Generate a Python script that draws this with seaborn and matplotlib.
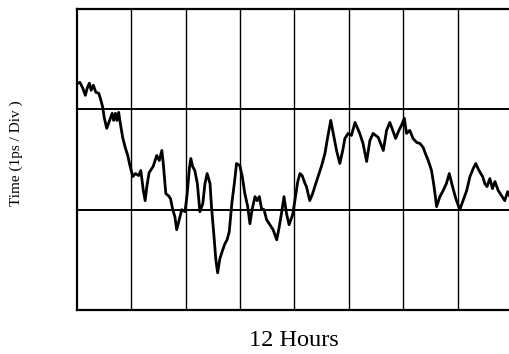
import matplotlib
matplotlib.use("Agg")
import matplotlib.pyplot as plt
import seaborn as sns
import pandas as pd

# Elapsed time (hours) and clock offset (ps) of the recorded trace
hours = [
    0.02, 0.08, 0.16, 0.23, 0.28, 0.34, 0.39, 0.45, 0.52, 0.60,
    0.66, 0.71, 0.75, 0.82, 0.87, 0.92, 0.97, 1.01, 1.06, 1.10,
    1.15, 1.19, 1.26, 1.33, 1.40, 1.46, 1.54, 1.61, 1.70, 1.76,
    1.83, 1.88, 1.93, 1.99, 2.10, 2.20, 2.27, 2.34, 2.38, 2.45,
    2.52, 2.58, 2.64, 2.70, 2.75, 2.82, 2.89, 2.98, 3.04, 3.10,
    3.14, 3.19, 3.25, 3.32, 3.39, 3.47, 3.53, 3.59, 3.67, 3.71,
    3.78, 3.83, 3.88, 3.94, 4.02, 4.08, 4.14, 4.20, 4.27, 4.34,
    4.40, 4.49, 4.56, 4.63, 4.71, 4.77, 4.83, 4.91, 4.97, 5.03,
    5.09, 5.16, 5.23, 5.32, 5.41, 5.51, 5.57, 5.64, 5.71, 5.78,
    5.85, 5.95, 6.01, 6.09, 6.15, 6.21, 6.29, 6.33, 6.42, 6.50,
    6.56, 6.65, 6.75, 6.84, 6.90, 7.00, 7.07, 7.16, 7.25, 7.33,
    7.39, 7.48, 7.57, 7.67, 7.73, 7.80, 7.89, 7.99, 8.08, 8.17,
    8.31, 8.45, 8.54, 8.63, 8.69, 8.79, 8.88, 8.95, 9.03, 9.09,
    9.18, 9.27, 9.37, 9.46, 9.55, 9.61, 9.69, 9.78, 9.85, 9.92,
    10.01, 10.10, 10.19, 10.27, 10.36, 10.45, 10.56, 10.65, 10.75, 10.84,
    10.93, 11.00, 11.09, 11.19, 11.25, 11.31, 11.39, 11.46, 11.53, 11.62,
    11.71, 11.80, 11.88, 11.94,
]
offset_ps = [
    2.26, 2.27, 2.21, 2.14, 2.21, 2.26, 2.19, 2.24, 2.17, 2.16,
    2.09, 2.02, 1.92, 1.81, 1.86, 1.91, 1.96, 1.89, 1.96, 1.89,
    1.97, 1.87, 1.72, 1.62, 1.54, 1.44, 1.33, 1.36, 1.34, 1.39,
    1.19, 1.09, 1.24, 1.37, 1.43, 1.54, 1.49, 1.59, 1.46, 1.16,
    1.14, 1.11, 1.00, 0.93, 0.80, 0.90, 1.00, 0.98, 1.16, 1.41,
    1.51, 1.43, 1.39, 1.26, 0.98, 1.06, 1.26, 1.36, 1.26, 1.03,
    0.73, 0.50, 0.37, 0.51, 0.60, 0.66, 0.70, 0.78, 1.06, 1.26,
    1.46, 1.44, 1.33, 1.16, 1.03, 0.86, 1.00, 1.13, 1.09, 1.13,
    1.01, 1.00, 0.90, 0.85, 0.80, 0.70, 0.81, 0.96, 1.13, 0.96,
    0.85, 0.95, 1.09, 1.28, 1.36, 1.34, 1.26, 1.23, 1.09, 1.16,
    1.23, 1.33, 1.44, 1.56, 1.69, 1.89, 1.76, 1.59, 1.46, 1.59,
    1.71, 1.76, 1.74, 1.87, 1.82, 1.76, 1.66, 1.48, 1.69, 1.76,
    1.72, 1.59, 1.79, 1.87, 1.81, 1.71, 1.79, 1.84, 1.91, 1.76,
    1.79, 1.71, 1.67, 1.66, 1.62, 1.56, 1.49, 1.39, 1.23, 1.03,
    1.13, 1.19, 1.26, 1.36, 1.23, 1.11, 1.00, 1.09, 1.19, 1.33,
    1.41, 1.46, 1.39, 1.33, 1.26, 1.23, 1.31, 1.21, 1.28, 1.19,
    1.14, 1.09, 1.18, 1.13,
]

# Division grid: 8 time divisions of 1.5 h, 3 offset divisions of 1 ps
x_divs = [1.5, 3.0, 4.5, 6.0, 7.5, 9.0, 10.5]
y_divs = [1.0, 2.0]

sns.set_style("white")
plt.rcParams["font.family"] = ["Liberation Serif", "DejaVu Serif"]

df = pd.DataFrame({"hours": hours, "offset_ps": offset_ps})

fig = plt.figure(figsize=(5.10, 3.54), dpi=100)
ax = fig.add_axes([77 / 510, 44 / 354, 435 / 510, 301 / 354])

for xv in x_divs:
    ax.axvline(xv, color="black", linewidth=1.0, zorder=1)
for yv in y_divs:
    ax.axhline(yv, color="black", linewidth=1.4, zorder=1)

sns.lineplot(data=df, x="hours", y="offset_ps", ax=ax, color="black",
             linewidth=2.0, sort=False, estimator=None, zorder=3)

ax.set_xlim(0, 12)
ax.set_ylim(0, 3)
ax.set_xticks([])
ax.set_yticks([])
ax.set_xlabel("")
ax.set_ylabel("")
for spine in ax.spines.values():
    spine.set_color("black")
    spine.set_linewidth(1.6)
    spine.set_visible(True)

fig.text(294 / 510, 1 - 340 / 354, "12 Hours", ha="center", va="center",
         fontsize=17.5, color="black")
fig.text(16 / 510, 1 - 153 / 354, "Time (1ps / Div )", ha="center", va="center",
         rotation=90, fontsize=11, color="black")

fig.savefig("out.png", dpi=100, facecolor="white")
